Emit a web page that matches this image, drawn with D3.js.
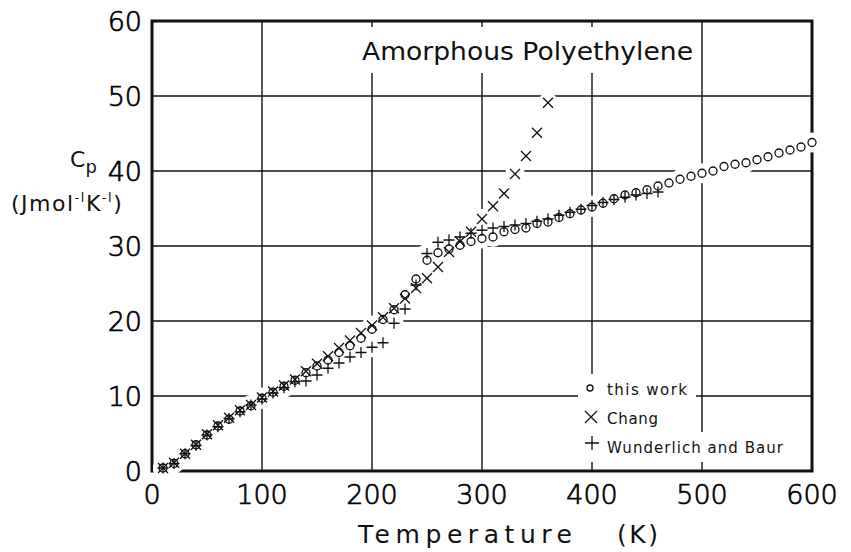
<!DOCTYPE html>
<html>
<head>
<meta charset="utf-8">
<script src="https://cdn.jsdelivr.net/npm/d3@7"></script>
<style>
  body { margin: 0; background: #fff; }
  text { font-family: "DejaVu Sans", sans-serif; fill: #111; }
</style>
</head>
<body>
<script>
// temperatures (K) and Cp (J/mol/K)
var tempThis = [10,20,30,40,50,60,70,80,90,100,110,120,130,140,150,160,170,180,190,200,
  210,220,230,240,250,260,270,280,290,300,310,320,330,340,350,360,370,380,390,400,
  410,420,430,440,450,460,470,480,490,500,510,520,530,540,550,560,570,580,590,600];
var cpThis = [0.4,1.0,2.3,3.5,4.8,6.0,6.9,8.0,8.7,9.7,10.5,11.3,12.1,13.1,14.0,14.8,15.8,16.7,17.7,18.9,
  20.2,21.5,23.5,25.6,28.1,29.1,29.6,30.1,30.6,31.0,31.2,31.9,32.2,32.4,33.0,33.2,33.8,34.3,34.8,35.2,
  35.7,36.3,36.8,37.1,37.5,38.0,38.4,38.9,39.3,39.7,40.0,40.6,40.9,41.1,41.5,41.9,42.4,42.8,43.2,43.8];

var tempChang = [10,20,30,40,50,60,70,80,90,100,110,120,130,140,150,160,170,180,190,200,
  210,220,230,240,250,260,270,280,290,300,310,320,330,340,350,360];
var cpChang = [0.4,1.1,2.3,3.5,4.9,6.1,7.1,8.1,8.8,9.8,10.6,11.4,12.2,13.3,14.3,15.3,16.4,17.4,18.4,19.4,
  20.5,21.7,23.0,24.4,25.7,27.2,29.2,30.6,31.9,33.6,35.3,37.0,39.6,42.0,45.1,49.1];

var tempWB = [10,20,30,40,50,60,70,80,90,100,110,120,130,140,150,160,170,180,190,200,
  210,220,230,240,250,260,270,280,290,300,310,320,330,340,350,360,370,380,390,400,
  410,420,430,440,450,460];
var cpWB = [0.4,1.0,2.3,3.4,4.8,5.9,7.0,7.9,8.8,9.6,10.4,11.1,11.9,12.0,12.8,13.7,14.4,15.2,15.8,16.5,
  17.1,19.7,21.6,24.8,29.0,30.5,30.8,31.2,31.7,32.1,32.4,32.6,32.8,33.0,33.3,33.6,34.1,34.5,34.9,35.4,
  35.8,36.2,36.5,36.8,37.0,37.2];

var xTicks = [0,100,200,300,400,500,600];
var yTicks = [0,10,20,30,40,50,60];
var legendLabels = ["this  work", "Chang", "Wunderlich  and  Baur"];

var W = 851, H = 552;
var svg = d3.select("body").append("svg").attr("width", W).attr("height", H);

var x = d3.scaleLinear().domain([0, 600]).range([152, 812]);
var y = d3.scaleLinear().domain([0, 60]).range([471, 21]);

// grid
var grid = svg.append("g");
grid.selectAll(".vg").data(xTicks.slice(1, -1)).enter().append("line")
  .attr("x1", d => x(d)).attr("x2", d => x(d))
  .attr("y1", y(60)).attr("y2", y(0))
  .attr("stroke", "#111").attr("stroke-width", 1.4);
grid.selectAll(".hg").data(yTicks.slice(1, -1)).enter().append("line")
  .attr("x1", x(0)).attr("x2", x(600))
  .attr("y1", d => y(d)).attr("y2", d => y(d))
  .attr("stroke", "#111").attr("stroke-width", 1.4);

// frame
svg.append("rect")
  .attr("x", x(0)).attr("y", y(60))
  .attr("width", x(600) - x(0)).attr("height", y(0) - y(60))
  .attr("fill", "none").attr("stroke", "#111").attr("stroke-width", 3);

var thisPts = tempThis.map((t, i) => [t, cpThis[i]]);
var changPts = tempChang.map((t, i) => [t, cpChang[i]]);
var wbPts = tempWB.map((t, i) => [t, cpWB[i]]);

// white gaps where the drafter broke the grid around the points
var halo = svg.append("g");
[thisPts, changPts, wbPts].forEach(function(pts) {
  halo.selectAll(null).data(pts).enter().append("circle")
    .attr("cx", d => x(d[0])).attr("cy", d => y(d[1]))
    .attr("r", 10).attr("fill", "#fff");
});

// title with its gap in the grid
svg.append("rect").attr("x", 355).attr("y", 27).attr("width", 345).attr("height", 46).attr("fill", "#fff");
svg.append("text").attr("x", 362).attr("y", 60)
  .attr("font-size", 25).attr("textLength", 331).attr("lengthAdjust", "spacingAndGlyphs")
  .text("Amorphous  Polyethylene");

// markers
var marks = svg.append("g").attr("stroke", "#111").attr("fill", "none").attr("stroke-width", 1.3);
marks.selectAll(".c").data(thisPts).enter().append("circle")
  .attr("cx", d => x(d[0])).attr("cy", d => y(d[1])).attr("r", 4);
function cross(sel, s) {
  sel.attr("d", d => {
    var px = x(d[0]), py = y(d[1]);
    return "M" + (px - s) + "," + (py - s) + "L" + (px + s) + "," + (py + s) +
           "M" + (px - s) + "," + (py + s) + "L" + (px + s) + "," + (py - s);
  });
}
function plus(sel, s) {
  sel.attr("d", d => {
    var px = x(d[0]), py = y(d[1]);
    return "M" + (px - s) + "," + py + "L" + (px + s) + "," + py +
           "M" + px + "," + (py - s) + "L" + px + "," + (py + s);
  });
}
marks.selectAll(".x").data(changPts).enter().append("path").call(cross, 5);
marks.selectAll(".p").data(wbPts).enter().append("path").call(plus, 5.5);

// tick labels (thin lettering, thickened a little)
svg.selectAll(".xt").data(xTicks).enter().append("text")
  .attr("x", d => x(d)).attr("y", 504)
  .attr("text-anchor", "middle").attr("font-size", 27).attr("font-weight", 300)
  .style("fill", "#000").attr("stroke", "#000").attr("stroke-width", 0.7)
  .text(d => d);
svg.selectAll(".yt").data(yTicks).enter().append("text")
  .attr("x", 142).attr("y", d => y(d) + 10)
  .attr("text-anchor", "end").attr("font-size", 27).attr("font-weight", 300)
  .style("fill", "#000").attr("stroke", "#000").attr("stroke-width", 0.7)
  .text(d => d);

// axis titles
var cp = svg.append("text").attr("x", 70).attr("y", 167).attr("font-size", 22);
cp.append("tspan").text("C");
cp.append("tspan").attr("font-size", 18).attr("dy", 6).text("p");
var unit = svg.append("text").attr("x", 11).attr("y", 211).attr("font-size", 22)
  .attr("letter-spacing", 1.5);
unit.append("tspan").text("(Jmol");
unit.append("tspan").attr("font-size", 13).attr("dy", -9).text("-l");
unit.append("tspan").attr("dy", 9).text("K");
unit.append("tspan").attr("font-size", 13).attr("dy", -9).text("-l");
unit.append("tspan").attr("dy", 9).text(")");

svg.append("text").attr("x", 358).attr("y", 543).attr("font-size", 25)
  .attr("textLength", 214).attr("lengthAdjust", "spacing").text("Temperature");
svg.append("text").attr("x", 617).attr("y", 543).attr("font-size", 25)
  .attr("textLength", 41).attr("lengthAdjust", "spacing").text("(K)");

// legend
var lgW = [118, 84, 214];
var lgLen = [80, 51, 176];
var lg = svg.append("g");
legendLabels.forEach(function(lab, i) {
  var cy = 389 + i * 29;
  lg.append("rect").attr("x", 578).attr("y", cy - 15).attr("width", lgW[i]).attr("height", 30).attr("fill", "#fff");
  lg.append("text").attr("x", 607).attr("y", cy + 6).attr("font-size", 15)
    .attr("textLength", lgLen[i]).attr("lengthAdjust", "spacing").text(lab);
});
var lm = lg.append("g").attr("stroke", "#111").attr("fill", "none").attr("stroke-width", 1.3);
lm.append("circle").attr("cx", 590).attr("cy", 388).attr("r", 3);
lm.append("path").attr("d", "M585,411L597,423M585,423L597,411");
lm.append("path").attr("d", "M585,443H599M592,436V450");
</script>
</body>
</html>
